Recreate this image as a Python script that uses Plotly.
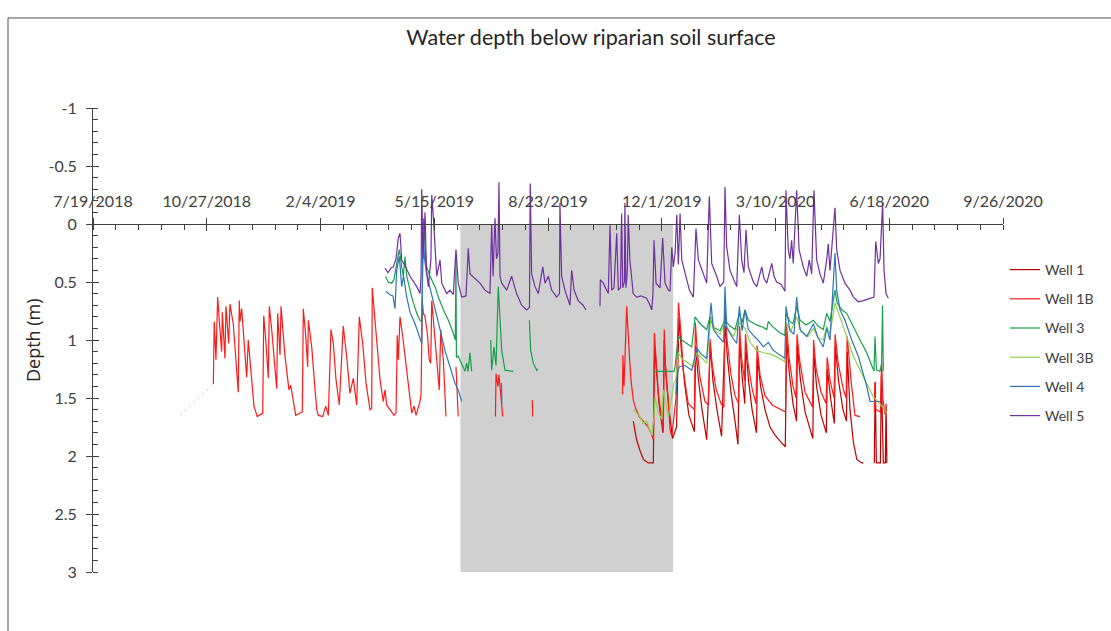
import datetime as dt
import plotly.graph_objects as go

# Logger record: elapsed days since START, depth below riparian soil surface (m).
# None marks a break in the record.
START = dt.date(2018, 7, 19)

well1b_link_day = [76.5, 105.8]
well1b_link_depth = [1.65, 1.38]

well1b_day = [
    105.8, 106.6, 108.1, 109.6, 111.0, 113.1, 113.7, 116.0, 116.9, 119.3, 120.4, 123.3, 127.7,
    128.6, 129.2, 130.7, 135.1, 136.5, 141.5, 144.4, 149.2, 150.1, 152.1, 154.1, 155.0, 157.1,
    161.5, 162.4, 164.4, 165.3, 168.8, 172.3, 173.8, 178.2, 184.0, 184.9, 187.3, 188.7, 189.3,
    192.3, 195.2, 196.7, 198.1, 201.9, 204.6, 206.9, 209.2, 211.3, 213.6, 216.5, 220.0, 223.0,
    225.9, 228.8, 231.8, 234.1, 237.1, 240.0, 243.5, 245.0, 245.5, 247.9, 249.9, 252.3, 255.2,
    256.7, 258.2, 261.1, 264.6, 266.4, 267.5, 268.4, 269.9, 272.3, 275.2, 278.1, 280.2, 282.2,
    284.0, 287.5, 288.4, 289.5, 290.4, 291.9, 293.9, 295.6, 296.9, 297.8, 299.2, 301.5, 304.4,
    305.7, 308.0, 310.3, None, 319.1, 321.1, None, 353.8, 354.3, 356.0, 356.9, 360.2, None,
    386.2, 386.5, None,
    465.5, 465.8, 466.8, 469.2, 470.6, 472.7, 475.0, 477.4, 480.3, 483.8, 488.2, 491.2, 492.6,
    493.5, 495.0, 497.0, 500.0, 501.4, 502.2, 502.9, 505.4, 507.4, 508.9, 512.5, 514.7, 516.9,
    518.9, 521.3, 523.3, 528.7, 529.6, 530.9, 533.6, 538.0, 541.1, 542.4, 544.2, 547.7, 552.1,
    554.7, 555.6, 557.4, 560.9, 564.4, 567.5, 568.4, 570.1, 572.8, 573.6, 575.8, 579.4, 582.9,
    583.8, 586.4, 590.8, 597.0, 604.0, 608.8, 609.7, 611.9, 615.4, 618.1, 618.9, 621.6, 626.0,
    632.6, 633.5, 635.7, 640.1, 644.5, 645.4, 648.0, 651.5, 652.4, 655.1, 659.5, 662.1, 663.0,
    665.6, 666.4, 669.9, 674.3, None,
    686.9, 687.3, 688.2, 692.2, 693.3, 694.4, 696.2,
]
well1b_depth = [
    1.38, 0.84, 1.17, 0.63, 0.83, 1.10, 0.76, 1.16, 0.71, 1.03, 0.69, 0.86, 1.45,
    0.66, 0.84, 0.73, 1.32, 1.00, 1.57, 1.66, 1.63, 0.79, 1.03, 1.33, 0.71, 0.91,
    1.42, 0.77, 1.13, 0.71, 1.14, 1.43, 1.39, 1.65, 1.62, 0.73, 1.00, 1.23, 0.83,
    1.06, 1.43, 1.60, 1.65, 1.66, 1.57, 1.65, 0.91, 1.03, 1.34, 1.56, 0.88, 1.14,
    1.46, 1.33, 1.56, 0.80, 1.03, 1.37, 1.60, 1.59, 0.55, 0.85, 1.07, 1.34, 1.53,
    1.43, 1.56, 1.60, 1.65, 1.63, 0.96, 1.17, 0.80, 0.97, 1.23, 1.49, 1.63, 1.57,
    1.65, 1.53, 1.47, 0.66, 0.77, 0.80, 0.94, 1.17, 1.20, 0.66, 0.83, 1.06, 1.43,
    0.91, 1.17, 1.66, None, 1.23, 1.66, None, 1.66, 1.29, 1.40, 1.30, 1.66, None,
    1.52, 1.66, None,
    1.47, 1.13, 1.40, 0.71, 0.97, 1.32, 1.52, 1.60, 1.66, 1.70, 1.75, 1.82, 1.86,
    0.94, 1.17, 1.46, 1.69, 1.78, 0.91, 1.17, 1.49, 1.78, 1.83, 1.50, 0.68, 0.94,
    1.26, 1.40, 1.55, 1.60, 0.85, 1.06, 1.32, 1.53, 1.56, 0.99, 1.20, 1.42, 1.55,
    1.58, 0.72, 1.00, 1.30, 1.48, 1.55, 0.88, 1.15, 1.35, 0.95, 1.20, 1.42, 1.55,
    1.05, 1.30, 1.48, 1.56, 1.60, 1.62, 0.86, 1.15, 1.40, 1.50, 0.95, 1.20, 1.45,
    1.58, 1.00, 1.25, 1.45, 1.55, 1.15, 1.35, 1.50, 0.95, 1.20, 1.42, 1.50, 0.97,
    1.25, 1.35, 1.65, 1.66, None,
    1.62, 1.37, 1.60, 1.62, 1.20, 1.50, 1.64,
]

well1_day = [
    475.0, 477.9, 480.8, 483.8, 488.2, 492.6, 493.7, 495.4, 497.6, 501.1, 502.2, 503.7, 506.4,
    509.5, 513.0, 515.2, 517.3, 520.4, 523.9, 528.7, 529.9, 531.8, 535.4, 539.5, 542.8, 545.0,
    548.5, 552.6, 555.8, 557.7, 560.8, 564.4, 567.0, 568.5, 570.5, 573.0, 573.9, 576.3, 579.4,
    583.3, 584.2, 586.9, 590.8, 595.2, 599.6, 604.8, 608.6, 609.8, 612.3, 615.4, 618.5, 619.2,
    622.0, 626.0, 632.8, 633.7, 636.1, 640.1, 644.7, 645.6, 648.4, 651.7, 652.6, 655.4, 659.3,
    662.4, 663.1, 665.5, 668.6, 671.5, 675.9, 677.3, None,
    686.9, 687.6, 688.7, 692.2, 693.1, 694.8, 696.6, 697.2, 697.9,
]
well1_depth = [
    1.70, 1.86, 1.95, 2.03, 2.06, 2.06, 1.05, 1.30, 1.55, 1.80, 1.00, 1.30, 1.60,
    1.85, 1.75, 0.80, 1.10, 1.40, 1.65, 1.79, 1.05, 1.30, 1.60, 1.86, 1.05, 1.35,
    1.60, 1.83, 0.85, 1.15, 1.45, 1.70, 1.90, 1.00, 1.30, 1.55, 1.05, 1.35, 1.60,
    1.80, 1.15, 1.40, 1.60, 1.75, 1.82, 1.88, 1.92, 1.00, 1.30, 1.55, 1.70, 1.05,
    1.35, 1.62, 1.85, 1.10, 1.40, 1.65, 1.80, 1.25, 1.50, 1.72, 1.05, 1.35, 1.60,
    1.70, 1.10, 1.60, 1.89, 2.03, 2.06, 2.06, None,
    2.06, 1.36, 2.06, 2.06, 1.30, 2.06, 2.06, 1.55, 2.06,
]

well3_day = [
    257.1, 259.6, 262.6, 264.6, 267.0, 269.3, 271.4, 272.8, 274.3, 275.8, 280.2, 284.6, 287.5,
    289.0, 290.6, 292.7, 294.5, 296.3, 300.7, 303.6, 308.0, 312.4, 316.7, 318.5, 319.1, 319.5,
    321.1, 324.1, 327.0, 328.5, 329.7, 331.4, 332.9, None,
    349.6, 350.5, 352.5, 354.3, 356.3, 359.3, 362.2, 369.5, None,
    383.6, 384.8, 387.1, 390.1, 391.2, None,
    493.2, 498.5, 503.8, 510.8, 511.7, 513.2, 514.6, 517.6, 522.0, 526.4, 529.3, 533.7, 539.5,
    542.4, 545.4, 551.2, 555.6, 560.0, 564.4, 568.2, 570.6, 573.2, 576.1, 579.4, 583.5, 589.0,
    592.3, 593.7, 597.0, 604.0, 608.3, 609.2, 612.7, 615.4, 618.6, 621.6, 626.8, 633.3, 637.4,
    642.0, 645.0, 647.9, 652.3, 654.1, 658.2, 662.6, 668.4, 674.3, 680.2, 684.5, 686.6, 687.5,
    688.8, 691.9, 693.3, 694.1, 694.8,
]
well3_depth = [
    0.45, 0.50, 0.51, 0.48, 0.34, 0.22, 0.37, 0.45, 0.28, 0.45, 0.63, 0.77, 0.83,
    0.84, -0.05, 0.35, 0.40, 0.45, 0.54, 0.63, 0.74, 0.83, 0.94, 1.00, 0.30, 1.15,
    1.14, 1.20, 1.27, 1.20, 1.27, 1.11, 1.27, None,
    1.00, 1.26, 1.06, 1.22, 0.54, 1.09, 1.26, 1.27, None,
    0.83, 1.09, 1.20, 1.26, 1.25, None,
    1.27, 1.27, 1.27, 1.27, 1.23, 1.11, 0.97, 1.00, 1.03, 1.06, 0.80, 0.86, 0.91,
    0.80, 0.89, 0.92, 0.83, 0.88, 0.91, 0.77, 0.85, 0.74, 0.83, 0.85, 0.87, 0.89,
    0.91, 0.84, 0.88, 0.94, 0.96, 0.77, 0.84, 0.86, 0.71, 0.83, 0.87, 0.83, 0.88,
    0.91, 0.77, 0.84, 0.57, 0.68, 0.74, 0.77, 0.89, 1.00, 1.11, 1.23, 1.27, 0.97,
    1.26, 1.27, 1.20, 0.70, 1.27,
]

well3b_day = [
    475.0, 477.9, 480.8, 483.8, 486.7, 489.7, 491.2, 493.2, 494.1, 497.0, 500.0, 501.4, 503.8,
    505.8, 508.8, 510.8, 512.5, 514.6, 517.6, 522.0, 527.8, 530.8, 534.6, 539.5, 543.3, 546.8,
    551.2, 555.6, 559.2, 562.9, 568.2, 573.2, 577.6, 583.5, 589.3, 595.2, 602.2, 608.3, 609.2,
    613.6, 618.6, 622.4, 628.6, 633.3, 637.4, 642.0, 645.0, 647.9, 652.3, 656.7, 662.6, 668.4,
    674.3, 680.2, 686.0, 691.9, 697.8,
]
well3b_depth = [
    1.60, 1.63, 1.66, 1.72, 1.70, 1.78, 1.82, 1.66, 1.49, 1.63, 1.68, 1.43, 1.55,
    1.66, 1.49, 1.37, 1.34, 1.11, 1.16, 1.19, 1.23, 1.11, 1.15, 1.20, 0.80, 0.92,
    0.95, 0.86, 0.92, 0.97, 0.85, 0.90, 1.02, 1.09, 1.11, 1.12, 1.15, 1.19, 0.85,
    0.92, 0.80, 0.93, 0.97, 0.90, 0.98, 1.00, 0.88, 0.95, 0.68, 0.80, 0.97, 1.14,
    1.26, 1.37, 1.49, 1.55, 1.63,
]

well4_day = [
    257.6, 261.1, 263.7, 265.5, 267.0, 269.3, 271.4, 273.0, 275.8, 278.7, 283.1, 287.5, 289.0,
    290.1, 291.4, 293.3, 296.3, 300.7, 305.1, 309.4, 313.8, 318.2, 321.1, 324.1, None,
    359.1, 359.4, None,
    512.5, 513.7, 515.4, 520.5, 526.4, 530.8, 534.6, 539.5, 543.3, 545.4, 549.8, 554.4, 555.6,
    557.1, 561.5, 565.9, 568.2, 570.6, 573.2, 576.1, 580.5, 584.6, 589.3, 593.7, 598.1, 605.4,
    608.3, 609.2, 612.7, 616.2, 618.6, 621.6, 627.4, 633.3, 637.4, 642.0, 645.0, 647.9, 652.3,
    653.8, 656.7, 661.1, 667.0, 672.8, 677.2, 680.2, 683.1, 691.9,
]
well4_depth = [
    0.58, 0.61, 0.62, 0.73, 0.40, 0.28, 0.54, 0.45, 0.63, 0.76, 0.86, 0.99, 1.03,
    0.00, 0.30, 0.43, 0.55, 0.71, 0.91, 1.09, 1.23, 1.37, 1.43, 1.53, None,
    1.37, 1.55, None,
    1.47, 1.29, 1.23, 1.22, 1.26, 1.07, 1.12, 1.16, 0.68, 0.91, 0.97, 1.02, 0.54,
    0.89, 0.97, 1.03, 0.71, 0.92, 0.74, 0.91, 0.96, 1.00, 1.06, 1.02, 1.09, 1.14,
    1.16, 0.71, 0.92, 0.95, 0.63, 0.91, 0.97, 0.86, 0.98, 1.06, 0.90, 1.00, 0.25,
    0.57, 0.74, 0.83, 1.00, 1.14, 1.29, 1.40, 1.53, 1.53,
]

well5_day = [
    256.7, 259.3, 262.0, 264.0, 266.4, 268.4, 269.9, 271.4, 274.3, 278.7, 284.6, 287.5, 288.4,
    289.0, 290.1, 291.9, 293.2, 294.8, 297.1, 297.8, 299.2, 302.2, 305.1, 306.6, 310.9, 313.8,
    316.7, 319.1, 321.1, 324.1, 327.9, 329.9, 331.4, 335.8, 340.2, 344.6, 349.0, 350.5, 351.7,
    353.4, 354.7, 356.0, 356.9, 357.8, 359.3, 363.7, 365.7, 368.0, 372.4, 376.8, 381.2, 383.7,
    384.4, 385.6, 388.6, 391.5, 395.4, 397.4, 400.3, 403.2, 407.6, 410.1, 410.5, 412.0, 414.9,
    419.3, 420.8, 422.9, 426.6, 430.8, 433.4, None,
    445.7, 446.0, 448.6, 453.0, 454.5, 456.0, 458.0, 460.4, 461.8, 463.7, 464.7, 465.7, 467.2,
    467.6, 468.5, 469.8, 470.5, 472.0, 474.9, 477.9, 481.7, 486.7, 489.7, 491.2, 492.3, 493.2,
    495.0, 498.5, 500.8, 502.9, 505.8, 507.3, 508.8, 510.2, 511.7, 513.2, 514.6, 516.1, 517.6,
    520.5, 524.3, 527.8, 530.1, 532.2, 536.6, 539.5, 541.8, 543.9, 548.3, 551.2, 554.5, 555.6,
    557.1, 560.0, 562.9, 565.9, 568.2, 570.3, 572.3, 574.1, 576.1, 580.5, 583.5, 587.9, 589.9,
    592.3, 596.7, 598.7, 601.0, 604.8, 608.3, 609.2, 611.2, 612.7, 614.2, 615.6, 618.6, 620.7,
    624.4, 627.4, 629.7, 631.8, 633.8, 636.2, 639.1, 642.0, 645.0, 646.4, 647.9, 650.8, 652.3,
    653.8, 656.7, 661.1, 665.5, 668.4, 672.8, 677.2, 683.1, 686.6, 688.1, 690.4, 691.9, 693.3,
    694.2, 695.4, 697.2, 699.2,
]
well5_depth = [
    0.38, 0.42, 0.38, 0.37, 0.30, 0.12, 0.08, 0.31, 0.36, 0.45, 0.54, 0.60, 0.45,
    -0.30, 0.30, -0.10, 0.40, 0.54, 0.30, -0.25, -0.06, 0.45, 0.31, 0.51, 0.60, 0.57,
    0.61, 0.22, 0.51, 0.63, 0.62, 0.21, 0.43, 0.47, 0.51, 0.57, 0.60, 0.00, 0.45,
    -0.05, 0.30, 0.25, -0.36, 0.45, 0.51, 0.57, 0.52, 0.45, 0.60, 0.70, 0.74, 0.72,
    -0.35, 0.43, 0.54, 0.60, 0.37, 0.51, 0.45, 0.57, 0.63, 0.60, -0.18, 0.45, 0.57,
    0.70, 0.40, 0.57, 0.66, 0.70, 0.74, None,
    0.71, 0.48, 0.51, 0.60, 0.01, 0.57, 0.55, 0.08, 0.57, 0.55, -0.09, 0.55, 0.50,
    -0.18, 0.55, 0.40, -0.08, 0.31, 0.60, 0.63, 0.62, 0.64, 0.70, 0.74, 0.60, 0.14,
    0.51, 0.55, 0.12, 0.51, 0.57, 0.58, 0.20, 0.37, 0.25, -0.08, 0.35, -0.09, 0.31,
    0.43, 0.57, 0.63, 0.04, 0.31, 0.44, 0.51, -0.24, 0.34, 0.45, 0.54, 0.50, -0.32,
    0.20, 0.40, 0.47, 0.54, -0.08, 0.31, 0.42, 0.05, 0.37, 0.50, 0.54, 0.37, 0.47,
    0.51, 0.34, 0.45, 0.50, 0.52, 0.58, -0.29, 0.22, 0.30, 0.14, 0.34, -0.29, 0.22,
    0.37, 0.45, 0.31, 0.43, -0.29, 0.31, 0.43, 0.51, 0.31, 0.17, 0.40, 0.00, -0.14,
    0.22, 0.40, 0.51, 0.57, 0.63, 0.67, 0.66, 0.64, 0.63, 0.15, 0.34, 0.30, -0.03,
    -0.18, 0.40, 0.60, 0.64,
]

# Shaded period and axis settings
shade_start, shade_end = "2019-06-07", "2019-12-11"
shade_top, shade_bottom = 0, 3
x_start, x_end = "2018-07-19", "2020-09-26"
depth_ticks = [-1, -0.5, 0, 0.5, 1, 1.5, 2, 2.5, 3]
depth_labels = ["-1", "-0.5", "0", "0.5", "1", "1.5", "2", "2.5", "3"]

series = [
    ("Well 1", well1_day, well1_depth, "#C00000"),
    ("Well 1B", well1b_day, well1b_depth, "#FF1A1A"),
    ("Well 3", well3_day, well3_depth, "#17A04B"),
    ("Well 3B", well3b_day, well3b_depth, "#92D050"),
    ("Well 4", well4_day, well4_depth, "#2E75B6"),
    ("Well 5", well5_day, well5_depth, "#7030A0"),
]


def to_dates(days):
    return [None if d is None else dt.datetime.combine(START, dt.time()) + dt.timedelta(days=d)
            for d in days]


AX = "#404040"
TXT = "#404040"
DAY_MS = 86400000

fig = go.Figure()

fig.add_trace(go.Scatter(
    x=to_dates(well1b_link_day), y=well1b_link_depth, mode="lines",
    line=dict(color="rgba(255,60,60,0.35)", width=1, dash="dot"),
    showlegend=False, hoverinfo="skip",
))

for name, days, depth, color in series:
    fig.add_trace(go.Scatter(
        x=to_dates(days), y=depth, mode="lines", name=name, legendgroup=name,
        line=dict(color=color, width=1.2), connectgaps=False,
    ))

# second pair of axes only carries the inward half of the major ticks
fig.add_trace(go.Scatter(x=[], y=[], xaxis="x2", yaxis="y2", showlegend=False, hoverinfo="skip"))

fig.add_shape(type="rect", xref="x", yref="y", x0=shade_start, x1=shade_end,
              y0=shade_top, y1=shade_bottom, fillcolor="#D0D0D0", line=dict(width=0), layer="below")

# outer chart frame
fig.add_shape(type="rect", xref="paper", yref="paper", x0=-0.0934, x1=1.2, y0=-0.2, y1=1.194,
              line=dict(color="#505050", width=1), fillcolor="rgba(0,0,0,0)")

tick_font = dict(family="Lato", size=16, color=TXT)

fig.update_layout(
    width=1111, height=631,
    margin=dict(l=93, r=108, t=108, b=59),
    paper_bgcolor="white", plot_bgcolor="white",
    title=dict(text="Water depth below riparian soil surface", x=591 / 1111, xanchor="center",
               y=1 - 37 / 631, yanchor="middle", xref="container", yref="container",
               font=dict(family="Lato", size=21.5, color="#262626")),
    xaxis=dict(type="date", range=[x_start, x_end], anchor="free", position=0.75, side="top",
               showline=True, linecolor=AX, linewidth=1, ticks="outside", ticklen=6,
               tickcolor=AX, tickwidth=1, tick0=x_start, dtick=100 * DAY_MS,
               tickformat="%-m/%-d/%Y", tickfont=tick_font, ticklabelstandoff=5,
               showgrid=False, zeroline=False,
               minor=dict(ticks="inside", ticklen=5, tickcolor=AX, tick0=x_start,
                          dtick=20 * DAY_MS, showgrid=False)),
    xaxis2=dict(type="date", range=[x_start, x_end], overlaying="x", anchor="free", position=0.75,
                side="top", showline=False, ticks="inside", ticklen=6, tickcolor=AX,
                tick0=x_start, dtick=100 * DAY_MS, showticklabels=False, showgrid=False,
                zeroline=False),
    yaxis=dict(range=[3, -1], showline=True, linecolor=AX, linewidth=1, ticks="outside",
               ticklen=6, tickcolor=AX, tickmode="array", tickvals=depth_ticks,
               ticktext=depth_labels, tickfont=tick_font, ticklabelstandoff=6,
               showgrid=False, zeroline=False,
               minor=dict(ticks="inside", ticklen=5, tickcolor=AX, tickmode="linear",
                          tick0=-1, dtick=0.1, showgrid=False)),
    yaxis2=dict(range=[3, -1], overlaying="y", anchor="x", ticks="inside", ticklen=6,
                tickcolor=AX, tickmode="array", tickvals=depth_ticks, showticklabels=False,
                showline=False, showgrid=False, zeroline=False),
    legend=dict(x=(1005 - 93) / 910, y=(572 - 254) / 464, xanchor="left", yanchor="top",
                font=dict(family="Lato", size=14, color=TXT), tracegroupgap=8,
                bgcolor="rgba(0,0,0,0)"),
    annotations=[dict(text="Depth (m)", xref="paper", yref="paper", x=(33 - 93) / 910, y=0.5,
                      textangle=-90, showarrow=False, xanchor="center", yanchor="middle",
                      font=dict(family="Open Sans", size=18, color="#262626"))],
)

fig.write_html("out.html")
